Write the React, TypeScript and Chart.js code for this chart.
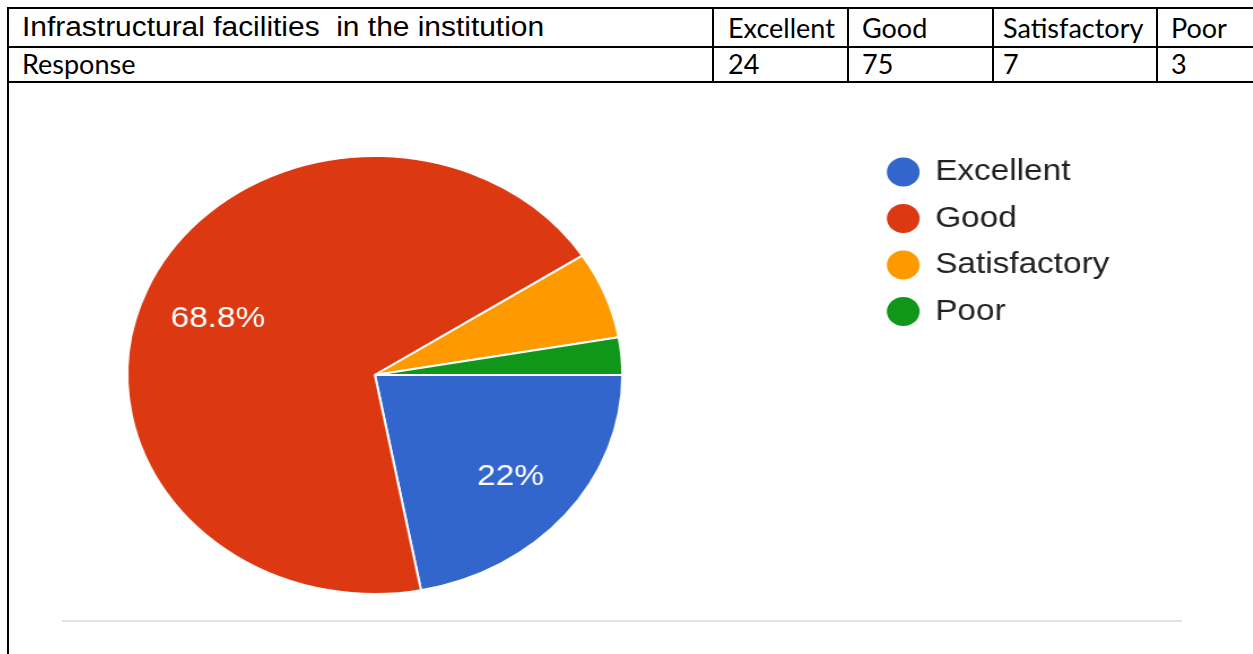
import React, { useEffect, useRef } from "react";
import { Chart, registerables } from "chart.js";

Chart.register(...registerables);

// ---- data ----
const tableTitle = "Infrastructural facilities  in the institution";
const rowLabel = "Response";
const categories = ["Excellent", "Good", "Satisfactory", "Poor"];
const responses = [24, 75, 7, 3];
const sliceColors = ["#3366cc", "#dc3912", "#ff9900", "#109618"];

// ---- layout ----
const SX = 1.13; // horizontal stretch of the chart picture
const CANVAS_LEFT = -119;
const CANVAS_TOP = 90;
const CANVAS_W = 1097;
const CANVAS_H = 530;
const PIE_RADIUS = 219;
const FONT_SIZE = 29.5;

const tableColX = [712, 847, 992, 1156];
const cellTextX = [728, 862, 1003, 1171];

const fmtPct = (v: number, total: number) =>
  parseFloat(((v / total) * 100).toFixed(1)) + "%";

const sliceLabelPlugin = {
  id: "sliceLabels",
  afterDatasetsDraw(chart: any) {
    const meta = chart.getDatasetMeta(0);
    const data: number[] = chart.data.datasets[0].data;
    const total = data.reduce((a, b) => a + b, 0);
    const ctx = chart.ctx;
    ctx.save();
    ctx.fillStyle = "#ffffff";
    ctx.font = `${FONT_SIZE}px 'Liberation Sans', Arial, sans-serif`;
    ctx.textAlign = "center";
    ctx.textBaseline = "alphabetic";
    meta.data.forEach((arc: any, i: number) => {
      if (data[i] / total < 0.1) return;
      const { x, y, startAngle, endAngle, outerRadius } = arc.getProps(
        ["x", "y", "startAngle", "endAngle", "outerRadius"],
        true
      );
      const mid = (startAngle + endAngle) / 2;
      const r = outerRadius * 0.7;
      ctx.fillText(
        fmtPct(data[i], total),
        x + Math.cos(mid) * r + 2,
        y + Math.sin(mid) * r + FONT_SIZE * 0.36 + 1.5
      );
    });
    ctx.restore();
  },
};

function PieChart() {
  const ref = useRef<HTMLCanvasElement | null>(null);
  useEffect(() => {
    if (!ref.current) return;
    const chart = new Chart(ref.current, {
      type: "pie",
      data: {
        labels: categories,
        datasets: [
          {
            data: responses,
            backgroundColor: sliceColors,
            borderColor: "#ffffff",
            borderWidth: 2,
            radius: PIE_RADIUS,
          } as any,
        ],
      },
      options: {
        responsive: false,
        animation: false,
        rotation: 90,
        layout: { padding: { left: 0, right: 0, top: 50.25, bottom: 10.25 } },
        plugins: {
          legend: {
            position: "right",
            align: "start",
            labels: {
              usePointStyle: true,
              pointStyle: "circle",
              boxWidth: 27,
              boxHeight: 20.5,
              padding: 17,
              color: "#222222",
              font: { family: "'Liberation Sans', Arial, sans-serif", size: FONT_SIZE },
              generateLabels: (c: any) =>
                Chart.overrides.pie.plugins.legend.labels
                  .generateLabels(c)
                  .map((l: any) => ({ ...l, lineWidth: 0 })),
            },
          },
          tooltip: { enabled: false },
        },
      } as any,
      plugins: [sliceLabelPlugin],
    });
    return () => chart.destroy();
  }, []);
  return (
    <div
      style={{
        position: "absolute",
        left: CANVAS_LEFT,
        top: CANVAS_TOP,
        width: CANVAS_W,
        height: CANVAS_H,
        transform: `scaleX(${SX})`,
        transformOrigin: "0 0",
      }}
    >
      <canvas
        ref={ref}
        width={CANVAS_W}
        height={CANVAS_H}
        style={{ width: CANVAS_W, height: CANVAS_H, display: "block" }}
      />
    </div>
  );
}

const calibri = "Lato, 'Open Sans', sans-serif";
const arial = "'Liberation Sans', Arial, sans-serif";

function Text({ x, baseline, text, family, size, offset, sx = 1 }: any) {
  return (
    <div
      style={{
        position: "absolute",
        left: x,
        top: baseline - offset,
        fontFamily: family,
        fontSize: size,
        lineHeight: `${size}px`,
        whiteSpace: "pre",
        color: "#000",
        transform: sx !== 1 ? `scaleX(${sx})` : undefined,
        transformOrigin: "0 0",
      }}
    >
      {text}
    </div>
  );
}

function Line({ x, y, w, h, color = "#000" }: any) {
  return (
    <div style={{ position: "absolute", left: x, top: y, width: w, height: h, background: color, zIndex: 2 }} />
  );
}

export default function App() {
  return (
    <div
      style={{
        position: "absolute",
        left: 0,
        top: 0,
        width: 1253,
        height: 654,
        overflow: "hidden",
        background: "#ffffff",
      }}
    >
      <PieChart />
      <Line x={62} y={620} w={1120} h={2} color="#e3e3e3" />
      {/* table */}
      <Line x={7} y={7} w={1246} h={2} />
      <Line x={7} y={46} w={1246} h={2} />
      <Line x={7} y={81} w={1246} h={2} />
      <Line x={7} y={7} w={2} h={647} />
      {tableColX.map((cx) => (
        <Line key={cx} x={cx} y={7} w={2} h={76} />
      ))}
      <Text x={22} baseline={36.5} text={tableTitle} family={arial} size={27} offset={22.9} sx={1.108} />
      <Text x={22} baseline={74} text={rowLabel} family={calibri} size={27} offset={24} />
      {categories.map((c, i) => (
        <Text key={c} x={cellTextX[i]} baseline={37.5} text={c} family={calibri} size={27} offset={24} />
      ))}
      {responses.map((v, i) => (
        <Text key={i} x={cellTextX[i]} baseline={74} text={String(v)} family={calibri} size={27} offset={24} />
      ))}
    </div>
  );
}
